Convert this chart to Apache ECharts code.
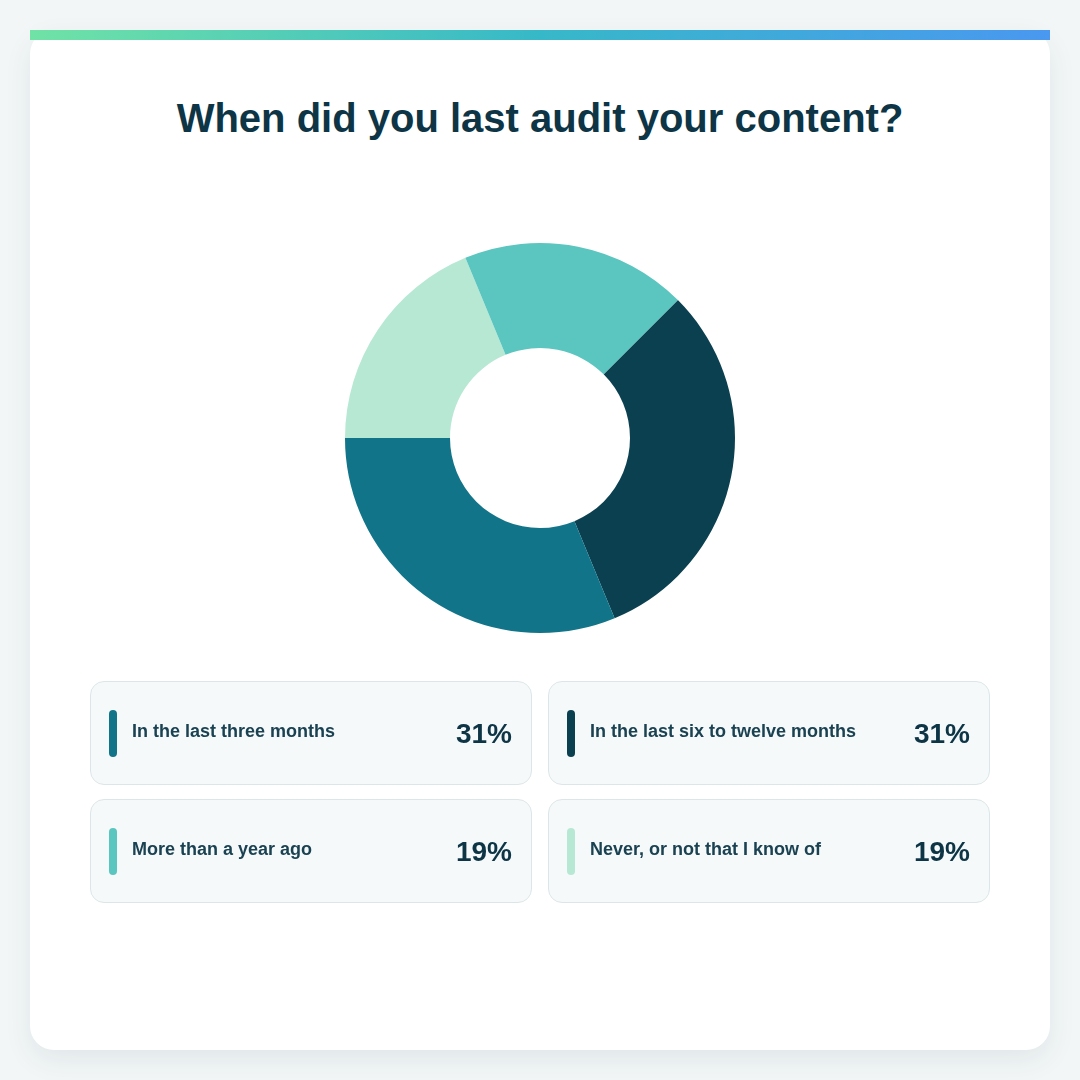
<!DOCTYPE html>
<html>
<head>
<meta charset="utf-8">
<script src="https://cdn.jsdelivr.net/npm/echarts@6/dist/echarts.min.js"></script>
<style>
  html, body { margin: 0; padding: 0; }
  body {
    width: 1080px; height: 1080px; position: relative; overflow: hidden;
    background: #f2f6f7;
    font-family: "Liberation Sans", Arial, sans-serif;
  }
  .card {
    position: absolute; left: 30px; top: 30px; width: 1020px; height: 1020px;
    background: #fff; border-radius: 24px;
    box-shadow: 0 10px 28px rgba(20, 60, 70, 0.08);
  }
  .topbar {
    position: absolute; left: 30px; top: 30px; width: 1020px; height: 10px;
    background: linear-gradient(90deg, #70e2a6 0%, #37b8c8 50%, #4a98f0 100%);
  }
  .title {
    position: absolute; left: 0; top: 98px; width: 1080px;
    text-align: center; font-size: 40px; line-height: 40px; font-weight: bold;
    color: #0d3546;
  }
  #chart { position: absolute; left: 290px; top: 188px; width: 500px; height: 500px; }
  .legend {
    position: absolute; left: 90px; top: 681px; width: 900px;
    display: grid; grid-template-columns: 442px 442px; column-gap: 16px; row-gap: 14px;
  }
  .item {
    box-sizing: border-box; height: 104px; display: flex; align-items: center;
    padding: 0 19px 0 18px; background: #f5f9fa; border: 1px solid #dce6e8; border-radius: 14px;
  }
  .swatch { width: 8px; height: 47px; border-radius: 4px; margin-right: 15px; flex: none; }
  .label {
    flex: 1; font-size: 18px; line-height: 18px; font-weight: bold; color: #1b4252;
    position: relative; top: -2px;
  }
  .pct {
    font-size: 28px; line-height: 28px; font-weight: bold; color: #0d3546;
    position: relative; top: 1px;
  }
</style>
</head>
<body>
<div class="card"></div>
<div class="topbar"></div>
<div class="title">When did you last audit your content?</div>
<div id="chart"></div>
<div class="legend" id="legend"></div>
<script>
// answers, in legend order
const categories = [
  'In the last three months',
  'In the last six to twelve months',
  'More than a year ago',
  'Never, or not that I know of'
]
const shares = [31.25, 31.25, 18.75, 18.75]
const colors = ['#117489', '#0b4050', '#5bc5c0', '#b7e8d4']
// order the slices are drawn clockwise from the upper right
const drawOrder = [1, 0, 3, 2]

const legendEl = document.getElementById('legend')
categories.forEach((name, i) => {
  const item = document.createElement('div')
  item.className = 'item'
  item.innerHTML = `<div class="swatch" style="background:${colors[i]}"></div>` +
    `<div class="label">${name}</div>` +
    `<div class="pct">${Math.round(shares[i])}%</div>`
  legendEl.appendChild(item)
})

const chart = echarts.init(document.getElementById('chart'))
chart.setOption({
  animation: false,
  tooltip: { show: false },
  series: [
    {
      type: 'pie',
      center: ['50%', '50%'],
      radius: [90, 195],
      startAngle: 45,
      clockwise: true,
      label: { show: false },
      labelLine: { show: false },
      emphasis: { disabled: true },
      itemStyle: { borderWidth: 0 },
      data: drawOrder.map((i) => ({
        name: categories[i],
        value: shares[i],
        itemStyle: { color: colors[i] }
      }))
    }
  ]
})
</script>
</body>
</html>
